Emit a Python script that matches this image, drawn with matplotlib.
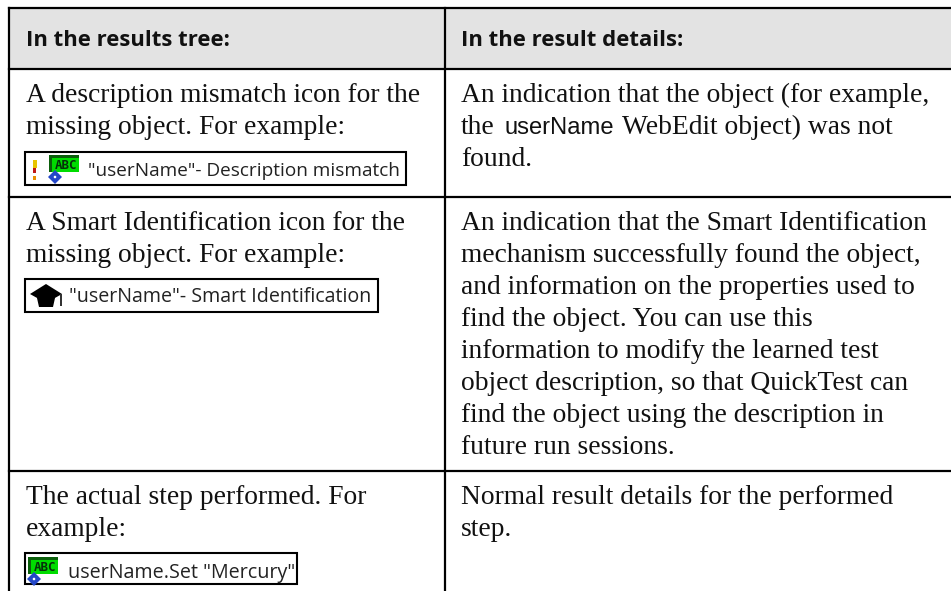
import matplotlib.pyplot as plt
from matplotlib.patches import Rectangle, Polygon, Circle

# table contents, line by line
headers = ['In the results tree:', 'In the result details:']
left_lines = [
    ['A description mismatch icon for the', 'missing object. For example:'],
    ['A Smart Identification icon for the', 'missing object. For example:'],
    ['The actual step performed. For', 'example:'],
]
right_lines = [
    ['An indication that the object (for example,', None, 'found.'],
    ['An indication that the Smart Identification',
     'mechanism successfully found the object,',
     'and information on the properties used to',
     'find the object. You can use this',
     'information to modify the learned test',
     'object description, so that QuickTest can',
     'find the object using the description in',
     'future run sessions.'],
    ['Normal result details for the performed', 'step.'],
]
icon_labels = ['"userName"- Description mismatch',
               '"userName"- Smart Identification',
               'userName.Set "Mercury"']

GREY = '#e3e3e3'
INK = '#111111'
LABEL = '#222222'
SERIF = 'Liberation Serif'
BODY = 19.8
LINE = 32
row_first = [102, 230, 504]
right_x = 461
left_x = 26


def body_text(ax, x, y, s, **kw):
    kw.setdefault('family', SERIF)
    kw.setdefault('fontsize', BODY)
    ax.text(x, y, s, color=INK, va='baseline', ha='left', **kw)


def abc_icon(ax, x, y):
    # green ABC edit box with the small blue diamond under it
    ax.add_patch(Rectangle((x, y), 30, 17, fc='#00dc00', ec='none'))
    ax.add_patch(Rectangle((x, y), 30, 3, fc='#0b5f0b', ec='none'))
    ax.add_patch(Rectangle((x, y), 3, 17, fc='#0b5f0b', ec='none'))
    ax.text(x + 17, y + 10.5, 'ABC', family='DejaVu Sans Mono', fontsize=9,
            weight='bold', color='#06300a', ha='center', va='center')
    ax.add_patch(Polygon([(x - 1, y + 22), (x + 6, y + 15), (x + 13, y + 22),
                          (x + 6, y + 29)], fc='#2346c8', ec='none'))
    ax.add_patch(Circle((x + 6, y + 22), 1.3, fc='white', ec='none'))


def icon_box(ax, x0, y0, x1, y1):
    ax.add_patch(Rectangle((x0, y0), x1 - x0, y1 - y0, fc='white',
                           ec='black', lw=1.5))


def main():
    fig = plt.figure(figsize=(9.51, 5.91), dpi=100)
    ax = fig.add_axes([0, 0, 1, 1])
    ax.set_xlim(0, 951)
    ax.set_ylim(591, 0)
    ax.axis('off')

    # header band and rules
    ax.add_patch(Rectangle((9, 8), 942, 60, fc=GREY, ec='none'))
    ax.plot([9, 951], [8, 8], color='black', lw=1.6)
    for y in [68.5, 197, 471]:
        ax.plot([9, 951], [y, y], color='black', lw=1.6)
    ax.plot([9, 9], [8, 591], color='black', lw=1.6)
    ax.plot([445, 445], [8, 591], color='black', lw=1.6)

    for x, s in zip([left_x, right_x], headers):
        ax.text(x, 46, s, family='Open Sans', weight='bold', fontsize=15.9,
                color=INK, va='baseline', ha='left')

    for first, lines in zip(row_first, left_lines):
        for i, s in enumerate(lines):
            body_text(ax, left_x, first + i * LINE, s)
    for first, lines in zip(row_first, right_lines):
        for i, s in enumerate(lines):
            if s:
                body_text(ax, right_x, first + i * LINE, s)

    # second line of first row mixes two fonts
    y = row_first[0] + LINE
    body_text(ax, right_x, y, 'the')
    body_text(ax, 505, y, 'userName', family='Liberation Sans', fontsize=17.1)
    body_text(ax, 622, y, 'WebEdit object) was not')

    # screenshots embedded in the left column
    icon_box(ax, 25, 152, 406, 185)
    ax.add_patch(Rectangle((32.5, 160), 4, 8, fc='#e8c400', ec='none'))
    ax.add_patch(Rectangle((33, 168), 3, 5, fc='#c01818', ec='none'))
    ax.add_patch(Rectangle((33, 176), 3, 3.5, fc='#e89000', ec='none'))
    abc_icon(ax, 49, 155)
    ax.text(88, 176, icon_labels[0], family='Open Sans', fontsize=13.7,
            color=LABEL, va='baseline')

    icon_box(ax, 25, 279, 378, 312)
    ax.add_patch(Polygon([(30, 294), (46, 284), (62, 294), (46, 303)], fc='black'))
    ax.add_patch(Polygon([(37, 298), (55, 298), (53, 307), (39, 307)], fc='black'))
    ax.add_patch(Rectangle((60, 294), 1.5, 12, fc='#333333', ec='none'))
    ax.text(69, 302.5, icon_labels[1], family='Open Sans', fontsize=14.1,
            color=LABEL, va='baseline')

    icon_box(ax, 25, 553, 297, 584)
    abc_icon(ax, 28, 557)
    ax.text(68, 578, icon_labels[2], family='Open Sans', fontsize=14.2,
            color=LABEL, va='baseline')

    fig.savefig('out.png', dpi=100)


if __name__ == '__main__':
    main()
